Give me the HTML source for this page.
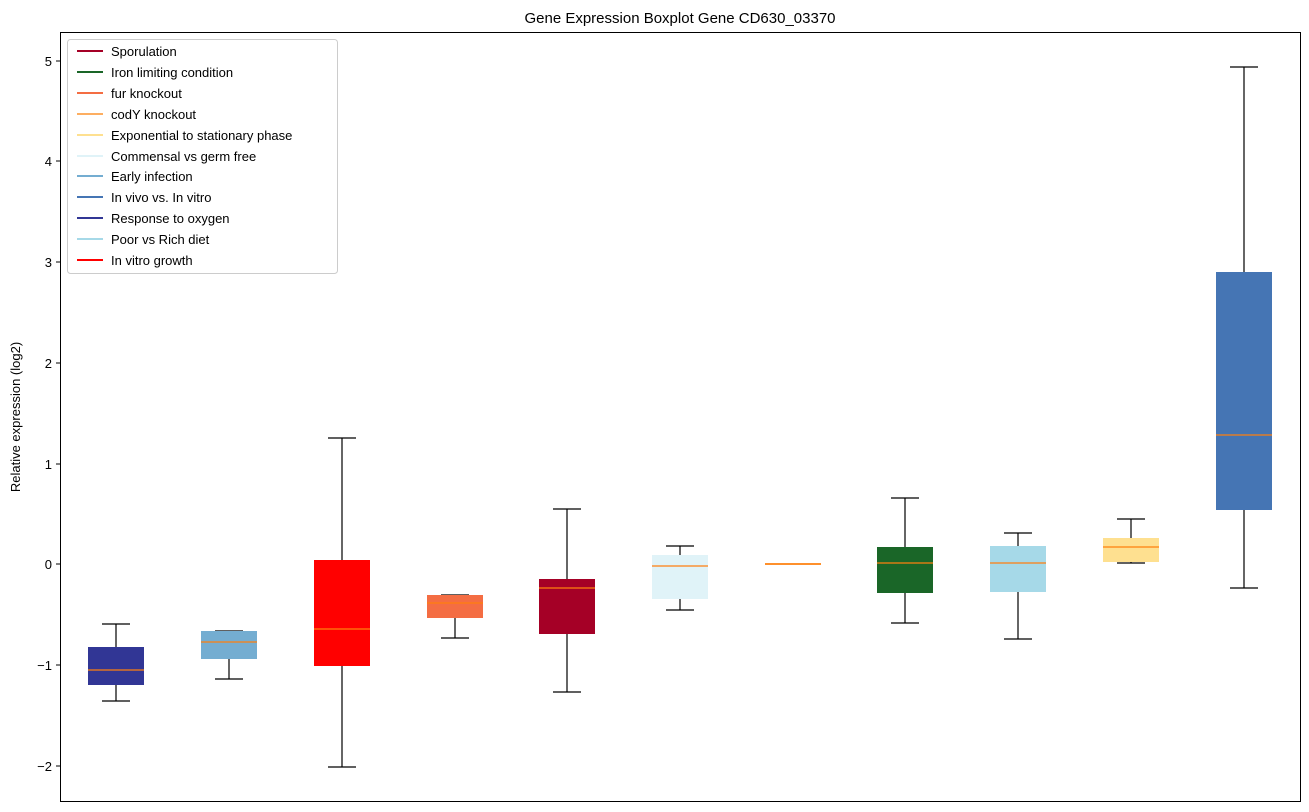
<!DOCTYPE html>
<html><head><meta charset="utf-8"><style>body{margin:0;background:#fff}svg{display:block}text{font-family:"Liberation Sans","DejaVu Sans",sans-serif;fill:#000}</style></head><body>
<svg width="1309" height="812" viewBox="0 0 1309 812">
<text x="680" y="23" font-size="15" text-anchor="middle">Gene Expression Boxplot Gene CD630_03370</text>
<g stroke="#000" stroke-width="1">
<line x1="56" y1="61" x2="60" y2="61"/><line x1="56" y1="161" x2="60" y2="161"/><line x1="56" y1="262" x2="60" y2="262"/><line x1="56" y1="363" x2="60" y2="363"/><line x1="56" y1="464" x2="60" y2="464"/><line x1="56" y1="564" x2="60" y2="564"/><line x1="56" y1="665" x2="60" y2="665"/><line x1="56" y1="766" x2="60" y2="766"/>
</g>
<g font-size="13" text-anchor="end">
<text x="52" y="66">5</text><text x="52" y="166">4</text><text x="52" y="267">3</text><text x="52" y="368">2</text><text x="52" y="469">1</text><text x="52" y="569">0</text><text x="52" y="670">−1</text><text x="52" y="771">−2</text>
</g>
<text transform="translate(20,417) rotate(-90)" font-size="13" text-anchor="middle">Relative expression (log2)</text>
<g id="boxes"></g>
<g stroke="#000" fill="none" stroke-width="1.2">
<!-- whiskers -->
<path d="M116,647V624M102,624H130M116,685V701M102,701H130"/>
<path d="M229,631V631M215,631H243M229,659V679M215,679H243"/>
<path d="M342,560V438M328,438H356M342,666V767M328,767H356"/>
<path d="M455,595V595M441,595H469M455,618V638M441,638H469"/>
<path d="M567,579V509M553,509H581M567,634V692M553,692H581"/>
<path d="M680,555V546M666,546H694M680,599V610M666,610H694"/>
<path d="M793,564M779,564H807"/>
<path d="M905,547V498M891,498H919M905,593V623M891,623H919"/>
<path d="M1018,546V533M1004,533H1032M1018,592V639M1004,639H1032"/>
<path d="M1131,538V519M1117,519H1145M1131,562V563M1117,563H1145"/>
<path d="M1244,272V67M1230,67H1258M1244,510V588M1230,588H1258"/>
</g>
<g stroke="none">
<rect x="88" y="647" width="56" height="38" fill="#313695"/>
<rect x="201" y="631" width="56" height="28" fill="#74add1"/>
<rect x="314" y="560" width="56" height="106" fill="#ff0000"/>
<rect x="427" y="595" width="56" height="23" fill="#f46d43"/>
<rect x="539" y="579" width="56" height="55" fill="#a50026"/>
<rect x="652" y="555" width="56" height="44" fill="#e0f3f8"/>
<rect x="765" y="563" width="56" height="2" fill="#fdae61"/>
<rect x="877" y="547" width="56" height="46" fill="#1a6628"/>
<rect x="990" y="546" width="56" height="46" fill="#a6d9e8"/>
<rect x="1103" y="538" width="56" height="24" fill="#fee090"/>
<rect x="1216" y="272" width="56" height="238" fill="#4575b4"/>
</g>
<g stroke="#ff7f0e" stroke-width="1.2">
<line x1="88" y1="670" x2="144" y2="670"/><line x1="201" y1="642" x2="257" y2="642"/><line x1="314" y1="629" x2="370" y2="629"/><line x1="427" y1="603" x2="483" y2="603"/><line x1="539" y1="588" x2="595" y2="588"/><line x1="652" y1="566" x2="708" y2="566"/><line x1="765" y1="564" x2="821" y2="564"/><line x1="877" y1="563" x2="933" y2="563"/><line x1="990" y1="563" x2="1046" y2="563"/><line x1="1103" y1="547" x2="1159" y2="547"/><line x1="1216" y1="435" x2="1272" y2="435"/>
</g>
<rect x="60.5" y="32.5" width="1240" height="769" fill="none" stroke="#000" stroke-width="1"/>
<rect x="67.5" y="39.5" width="270" height="234" fill="#fff" fill-opacity="0.8" stroke="#ccc" rx="3"/>
<g stroke-width="2">
<line x1="77" y1="51" x2="103" y2="51" stroke="#a50026"/>
<line x1="77" y1="72" x2="103" y2="72" stroke="#1a6628"/>
<line x1="77" y1="93" x2="103" y2="93" stroke="#f46d43"/>
<line x1="77" y1="114" x2="103" y2="114" stroke="#fdae61"/>
<line x1="77" y1="135" x2="103" y2="135" stroke="#fee090"/>
<line x1="77" y1="156" x2="103" y2="156" stroke="#e0f3f8"/>
<line x1="77" y1="176" x2="103" y2="176" stroke="#74add1"/>
<line x1="77" y1="197" x2="103" y2="197" stroke="#4575b4"/>
<line x1="77" y1="218" x2="103" y2="218" stroke="#313695"/>
<line x1="77" y1="239" x2="103" y2="239" stroke="#a6d9e8"/>
<line x1="77" y1="260" x2="103" y2="260" stroke="#ff0000"/>
</g>
<g font-size="13">
<text x="111" y="56">Sporulation</text><text x="111" y="77">Iron limiting condition</text><text x="111" y="98">fur knockout</text><text x="111" y="119">codY knockout</text><text x="111" y="140">Exponential to stationary phase</text><text x="111" y="161">Commensal vs germ free</text><text x="111" y="181">Early infection</text><text x="111" y="202">In vivo vs. In vitro</text><text x="111" y="223">Response to oxygen</text><text x="111" y="244">Poor vs Rich diet</text><text x="111" y="265">In vitro growth</text>
</g>
</svg>
</body></html>
